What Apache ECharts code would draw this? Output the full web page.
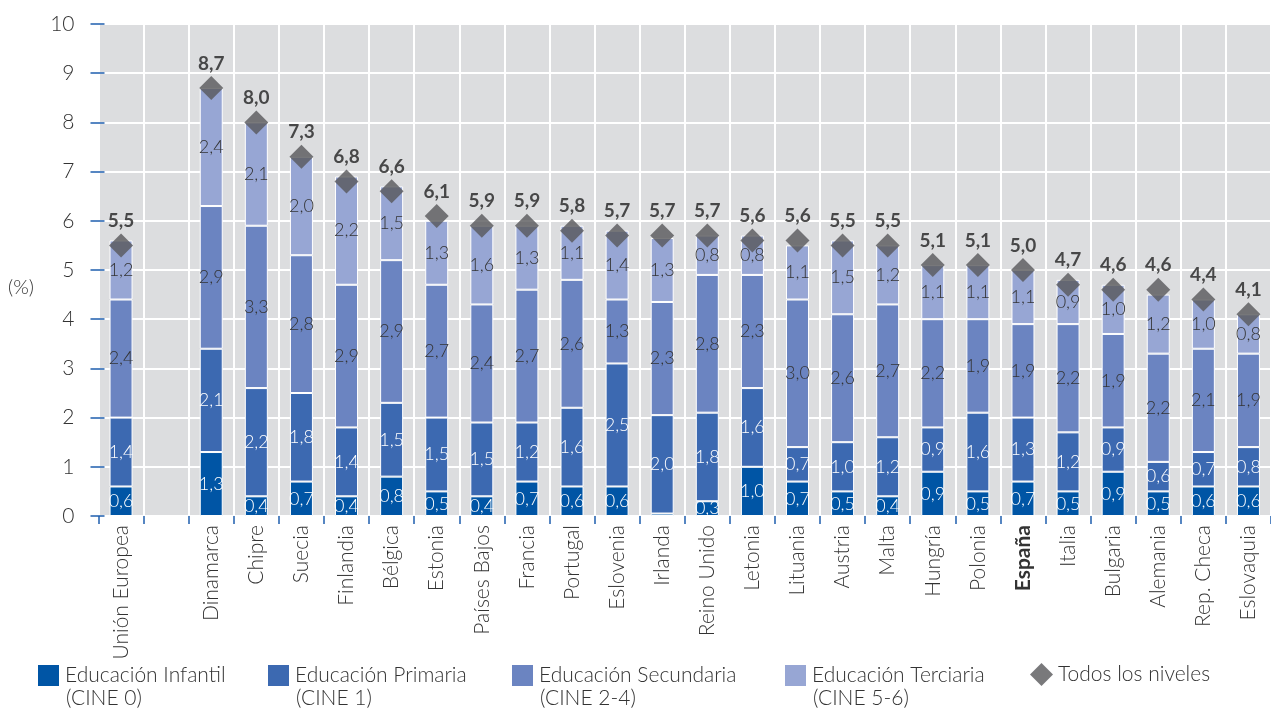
<!DOCTYPE html>
<html>
<head>
<meta charset="utf-8">
<script src="https://cdn.jsdelivr.net/npm/echarts@6/dist/echarts.min.js"></script>
<style>
    html, body { margin: 0; padding: 0; background: #fff; }
    #chart { width: 1271px; height: 709px; }
</style>
</head>
<body>
<div id="chart"></div>
<script>
// categorías (hueco vacío después de la UE)
const categories = ['Unión Europea', '', 'Dinamarca', 'Chipre', 'Suecia', 'Finlandia', 'Bélgica', 'Estonia',
    'Países Bajos', 'Francia', 'Portugal', 'Eslovenia', 'Irlanda', 'Reino Unido', 'Letonia', 'Lituania',
    'Austria', 'Malta', 'Hungría', 'Polonia', 'España', 'Italia', 'Bulgaria', 'Alemania', 'Rep. Checa', 'Eslovaquia'];

const infantil = [0.6, null, 1.3, 0.4, 0.7, 0.4, 0.8, 0.5, 0.4, 0.7, 0.6, 0.6, 0.05, 0.3, 1.0, 0.7,
    0.5, 0.4, 0.9, 0.5, 0.7, 0.5, 0.9, 0.5, 0.6, 0.6];
const primaria = [1.4, null, 2.1, 2.2, 1.8, 1.4, 1.5, 1.5, 1.5, 1.2, 1.6, 2.5, 2.0, 1.8, 1.6, 0.7,
    1.0, 1.2, 0.9, 1.6, 1.3, 1.2, 0.9, 0.6, 0.7, 0.8];
const secundaria = [2.4, null, 2.9, 3.3, 2.8, 2.9, 2.9, 2.7, 2.4, 2.7, 2.6, 1.3, 2.3, 2.8, 2.3, 3.0,
    2.6, 2.7, 2.2, 1.9, 1.9, 2.2, 1.9, 2.2, 2.1, 1.9];
const terciaria = [1.2, null, 2.4, 2.1, 2.0, 2.2, 1.5, 1.3, 1.6, 1.3, 1.1, 1.4, 1.3, 0.8, 0.8, 1.1,
    1.5, 1.2, 1.1, 1.1, 1.1, 0.9, 1.0, 1.2, 1.0, 0.8];
const total = [5.5, null, 8.7, 8.0, 7.3, 6.8, 6.6, 6.1, 5.9, 5.9, 5.8, 5.7, 5.7, 5.7, 5.6, 5.6,
    5.5, 5.5, 5.1, 5.1, 5.0, 4.7, 4.6, 4.6, 4.4, 4.1];

const FONT = 'Lato';
const blue = '#1f5fae';
const fmt = v => v.toFixed(1).replace('.', ',');

const chart = echarts.init(document.getElementById('chart'));

function barSeries(name, data, color, labelColor) {
    return {
        name: name,
        type: 'bar',
        stack: 'total',
        barWidth: 23,
        data: data,
        itemStyle: { color: color, borderColor: '#fff', borderWidth: 1 },
        label: {
            show: true,
            position: 'inside',
            color: labelColor,
            fontFamily: FONT,
            fontWeight: 300,
            fontSize: 18,
            formatter: p => (p.value >= 0.1 ? fmt(p.value) : '')
        }
    };
}

const legendNames = ['Educación Infantil', 'Educación Primaria', 'Educación Secundaria', 'Educación Terciaria', 'Todos los niveles'];
const legendSub = ['(CINE 0)', '(CINE 1)', '(CINE 2-4)', '(CINE 5-6)', ''];
const legendLeft = [36, 266, 510, 783, 1030];

const option = {
    animation: false,
    textStyle: { fontFamily: FONT },
    grid: {
        left: 98.5,
        right: -11,
        top: 24,
        bottom: 193,
        show: true,
        backgroundColor: '#dcdddf',
        borderWidth: 0
    },
    legend: legendNames.map((n, i) => ({
        data: [{ name: n, icon: i === 4 ? 'diamond' : 'rect' }],
        left: legendLeft[i],
        top: 663,
        padding: 0,
        itemWidth: 23,
        itemHeight: 23,
        selectedMode: false,
        textStyle: { fontSize: 21, color: '#333', fontFamily: FONT, fontWeight: 300 }
    })),
    graphic: legendSub.map((t, i) => ({
        type: 'text',
        left: legendLeft[i] + 30,
        top: 688,
        style: { text: t, fontSize: 21, fill: '#333', fontFamily: FONT, fontWeight: 300 }
    })).concat([{
        type: 'text',
        left: 8,
        top: 278,
        style: { text: '(%)', fontSize: 20, fill: '#333', fontFamily: FONT, fontWeight: 300 }
    }]),
    xAxis: {
        type: 'category',
        data: categories,
        axisLine: { show: false },
        axisTick: { show: true, length: 8, interval: 0, lineStyle: { color: blue, width: 1.5 } },
        splitLine: { show: true, interval: 0, lineStyle: { color: '#fff', width: 2 } },
        axisLabel: {
            interval: 0,
            rotate: 90,
            margin: 9,
            fontSize: 21,
            color: '#333',
            fontFamily: FONT,
            fontWeight: 300,
            formatter: v => (v === 'España' ? '{b|' + v + '}' : v),
            rich: { b: { fontWeight: 'bold', fontSize: 21, color: '#333', fontFamily: FONT } }
        }
    },
    yAxis: [
        {
            type: 'value',
            min: 0,
            max: 10,
            interval: 1,
            axisLine: { show: false },
            axisTick: { show: true, length: 8, lineStyle: { color: blue, width: 1.5 } },
            splitLine: { show: true, lineStyle: { color: '#fff', width: 2 } },
            axisLabel: { margin: 24, fontSize: 21, color: '#333', fontFamily: FONT, fontWeight: 300 }
        },
        {
            type: 'value',
            position: 'left',
            min: 0,
            max: 10,
            interval: 1,
            axisLine: { show: false },
            axisTick: { show: true, inside: true, length: 6, lineStyle: { color: blue, width: 1.5 } },
            splitLine: { show: false },
            axisLabel: { show: false }
        }
    ],
    series: [
        barSeries('Educación Infantil', infantil, '#0055a5', '#fff'),
        barSeries('Educación Primaria', primaria, '#3c69b1', '#fff'),
        barSeries('Educación Secundaria', secundaria, '#6b84c1', '#333'),
        barSeries('Educación Terciaria', terciaria, '#97a6d4', '#333'),
        {
            name: 'Todos los niveles',
            type: 'scatter',
            data: total,
            symbol: 'diamond',
            symbolSize: [24, 24],
            itemStyle: { color: '#58585a' },
            z: 5,
            label: {
                show: true,
                position: 'top',
                distance: 3,
                color: '#222',
                fontWeight: 'bold',
                fontSize: 19,
                fontFamily: FONT,
                formatter: p => fmt(p.value)
            }
        }
    ]
};

chart.setOption(option);
</script>
</body>
</html>
